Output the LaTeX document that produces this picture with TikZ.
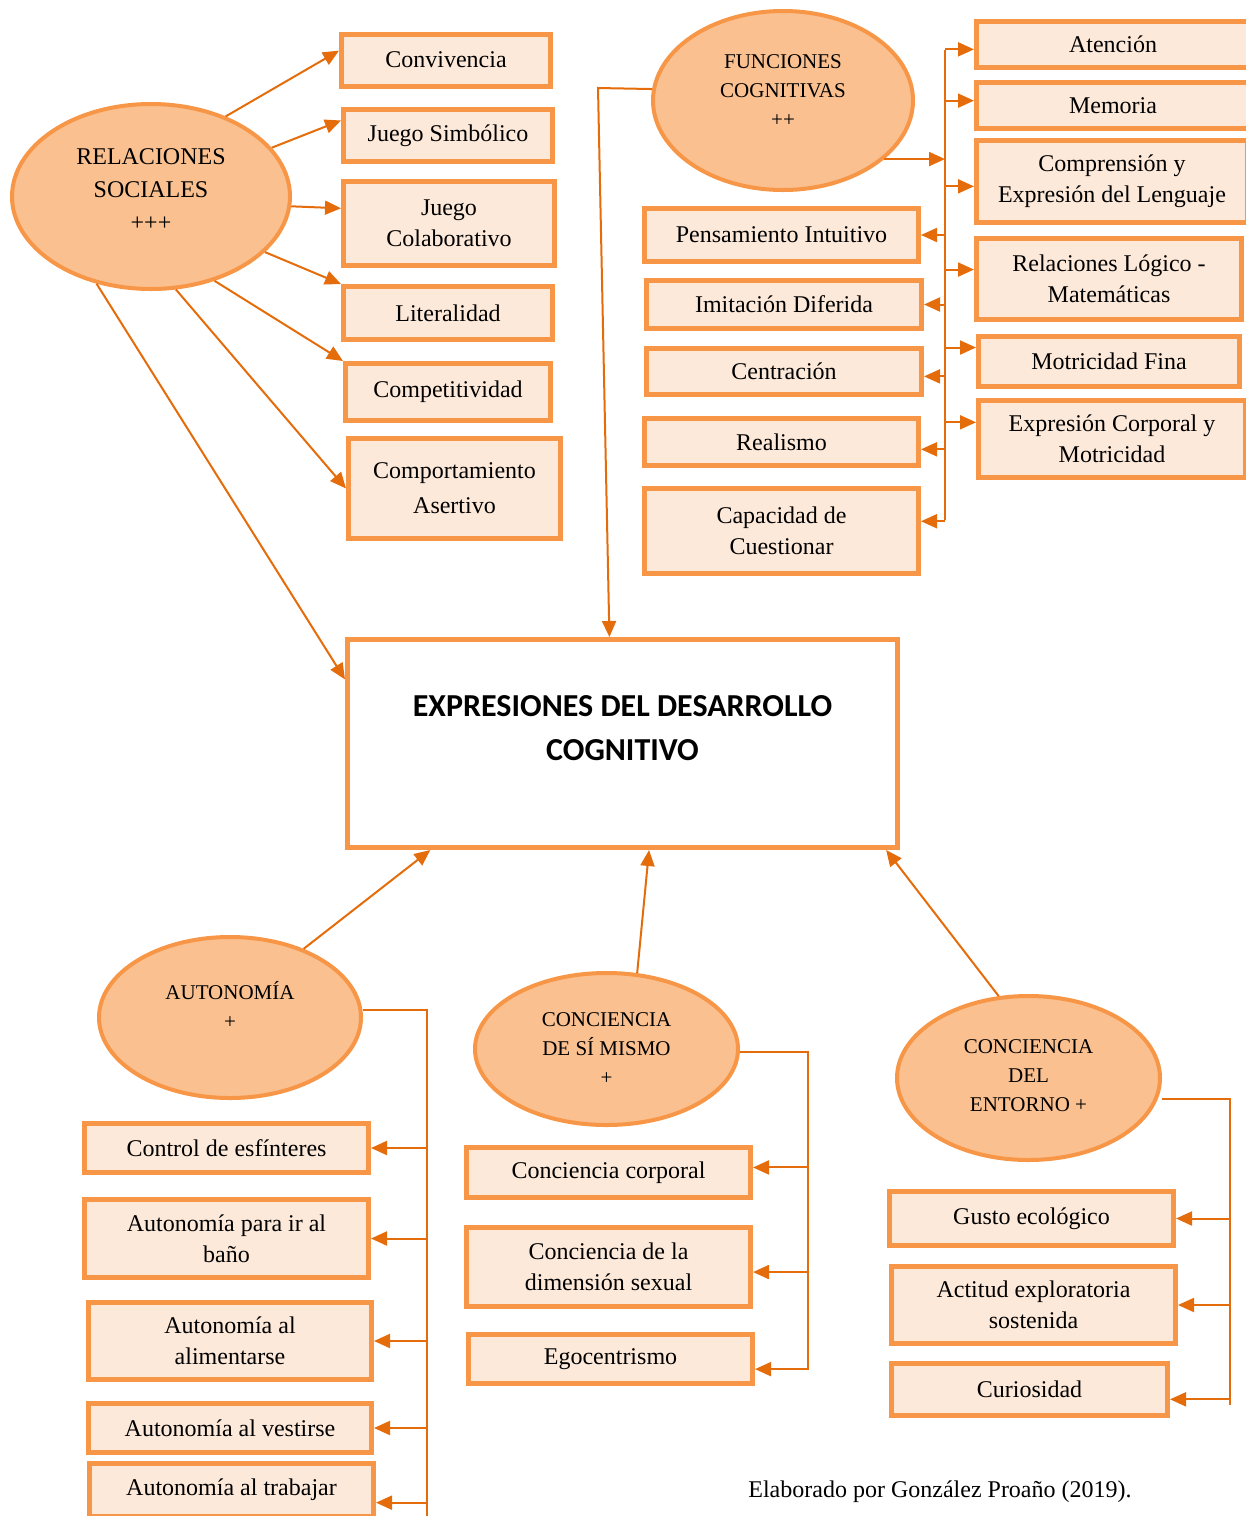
\documentclass[tikz,border=0pt]{standalone}
\usepackage{fontspec}
\setmainfont{Liberation Serif}
\newfontfamily\titlefont{Carlito}
\usetikzlibrary{shapes.geometric,arrows.meta,positioning}
\definecolor{borde}{HTML}{F79646}
\definecolor{relleno}{HTML}{FDE9D9}
\definecolor{naranjaclaro}{HTML}{FAC090}
\definecolor{trazo}{HTML}{E46C0A}
\tikzset{
  caja/.style={draw=borde,line width=2.5pt,fill=relleno,align=center,inner sep=0pt,
    font=\fontsize{12}{15.5}\selectfont},
  principal/.style={draw=borde,line width=2.5pt,fill=white,inner sep=0pt},
  titulo/.style={align=center,font=\titlefont\bfseries\fontsize{16}{22}\selectfont},
  oval/.style={ellipse,draw=borde,line width=2pt,fill=naranjaclaro,inner sep=0pt},
  ovtxt/.style={align=center,font=\fontsize{10.5}{14.5}\selectfont},
  conector/.style={draw=trazo,line width=1pt,-{Triangle[length=8pt,width=7pt]}},
  rama/.style={draw=trazo,line width=0.8pt}
}
\begin{document}
\begin{tikzpicture}[x=0.5pt,y=-0.5pt]
\useasboundingbox (0,0) rectangle (1246,1516);

\node[principal,minimum width=275pt,minimum height=104pt,
  label={[titulo,yshift=7.75pt]center:EXPRESIONES DEL DESARROLLO\\COGNITIVO}] (main) at (622.5,743.5) {};

\node[oval,minimum width=139pt,minimum height=92.5pt,
  label={[ovtxt,font=\fontsize{12}{16.5}\selectfont,yshift=3.25pt]center:RELACIONES\\SOCIALES\\+++}] (rs) at (151,196.5) {};
\node[oval,minimum width=130pt,minimum height=89.5pt,
  label={[ovtxt,yshift=4.75pt]center:FUNCIONES\\COGNITIVAS\\++}] (fc) at (783,100.5) {};
\node[oval,minimum width=131pt,minimum height=80.5pt,
  label={[ovtxt,yshift=6.5pt]center:AUTONOMÍA\\+}] (au) at (230,1017.5) {};
\node[oval,minimum width=131.5pt,minimum height=76pt,
  label={[ovtxt]center:CONCIENCIA\\DE SÍ MISMO\\+}] (csm) at (606.5,1049) {};
\node[oval,minimum width=131.5pt,minimum height=82pt,
  label={[ovtxt,yshift=1.25pt]center:CONCIENCIA\\DEL\\ENTORNO +}] (cde) at (1028.5,1078) {};

\foreach \n/\x/\y/\w/\h/\t in {
  conv/446/60/104.5/26/Convivencia,
  js/448/135.5/104.5/26/Juego Simbólico,
  jc/449/223.5/105.5/42/{Juego\\Colaborativo},
  lit/448/313/104.5/26.5/Literalidad,
  comp/448/392/102.5/28.5/Competitividad,
  cas/454.5/488.5/106/50/{Comportamiento\\[2pt]Asertivo},
  aten/1113/44.5/136.5/23/Atención,
  mem/1113/105.5/136.5/23/Memoria,
  cel/1112/181.5/135.5/41/{Comprensión y\\Expresión del Lenguaje},
  rlm/1109/279/132.5/40.5/{Relaciones Lógico -\\Matemáticas},
  mf/1109/361.5/130.5/25/Motricidad Fina,
  ecm/1112/439/133.5/38.5/{Expresión Corporal y\\Motricidad},
  pi/781.5/235/137/26.5/Pensamiento Intuitivo,
  imd/784/304.5/137.5/24/Imitación Diferida,
  cen/784/371.5/137.5/23/Centración,
  rea/781.5/442/137/23.5/Realismo,
  cdc/781.5/531/137/42.5/{Capacidad de\\Cuestionar},
  ce/226.5/1148/142/24.5/Control de esfínteres,
  aib/226.5/1238.5/142/39/{Autonomía para ir al\\baño},
  aal/230/1341/141.5/38.5/{Autonomía al\\alimentarse},
  ave/230/1428/141.5/24.5/Autonomía al vestirse,
  atr/231.5/1490/142/26.5/Autonomía al trabajar,
  cc/608.5/1172.5/142/25/Conciencia corporal,
  cds/608.5/1267/142/39.5/{Conciencia de la\\dimensión sexual},
  ego/610.5/1359/142/24.5/Egocentrismo,
  ge/1031.5/1218.5/142/27/Gusto ecológico,
  aes/1033.5/1305/142/38.5/{Actitud exploratoria\\sostenida},
  cur/1029.5/1389.5/138/26/Curiosidad}
  \node[caja,minimum width=\w pt,minimum height=\h pt] (\n) at (\x,\y) {\t};

\node[font=\fontsize{12}{14}\selectfont] (fuente) at (940,1492) {Elaborado por González Proaño (2019).};

\coordinate (fcvuelta) at (598,88);
\coordinate (fcarriba) at (945,50);
\coordinate (fcabajo) at (945,520);
\coordinate (aurama) at (427,1010);
\coordinate (aufin) at (427,1520);
\coordinate (csmrama) at (808,1052);
\coordinate (csmfin) at (808,1370);
\coordinate (cderama) at (1230,1099);
\coordinate (cdefin) at (1230,1405);

\foreach \a/\b in {47/conv.175,22/js.172,-4/jc.172,-26/lit.north west,
  -53/comp.north west,-75/cas.west,-122/main.167}
  \draw[conector] (rs.\a) -- (\b);

\draw[conector] (fc.175) -- (fcvuelta) -- (main.97);
\draw[rama] (fcarriba) -- (fcabajo);
\draw[conector] (fc.-30) -- (fc.-30 -| fcarriba);
\foreach \b in {aten.-178,mem.178,cel.-178,rlm.176,mf.174.6,ecm.173}
  \draw[conector] (fcarriba |- \b) -- (\b);
\foreach \b in {pi.east,imd.east,cen.-2,rea.-3,cdc.4.5}
  \draw[conector] (fcarriba |- \b) -- (\b);

\draw[conector] (au.43) -- (main.-151);
\draw[rama] (au.east |- aurama) -- (aurama) -- (aufin);
\foreach \b in {ce.east,aib.east,aal.east,ave.east,atr.-5}
  \draw[conector] (aurama |- \b) -- (\b);

\draw[conector] (csm.68) -- (main.-76);
\draw[rama] (csm.east |- csmrama) -- (csmrama) -- (csmfin);
\foreach \b in {cc.2,cds.-2.5,ego.-4}
  \draw[conector] (csmrama |- \b) -- (\b);

\draw[conector] (cde.110) -- (main.-22);
\draw[rama] (cde.east |- cderama) -- (cderama) -- (cdefin);
\foreach \b in {ge.east,aes.east,cur.-4}
  \draw[conector] (cderama |- \b) -- (\b);

\end{tikzpicture}
\end{document}
